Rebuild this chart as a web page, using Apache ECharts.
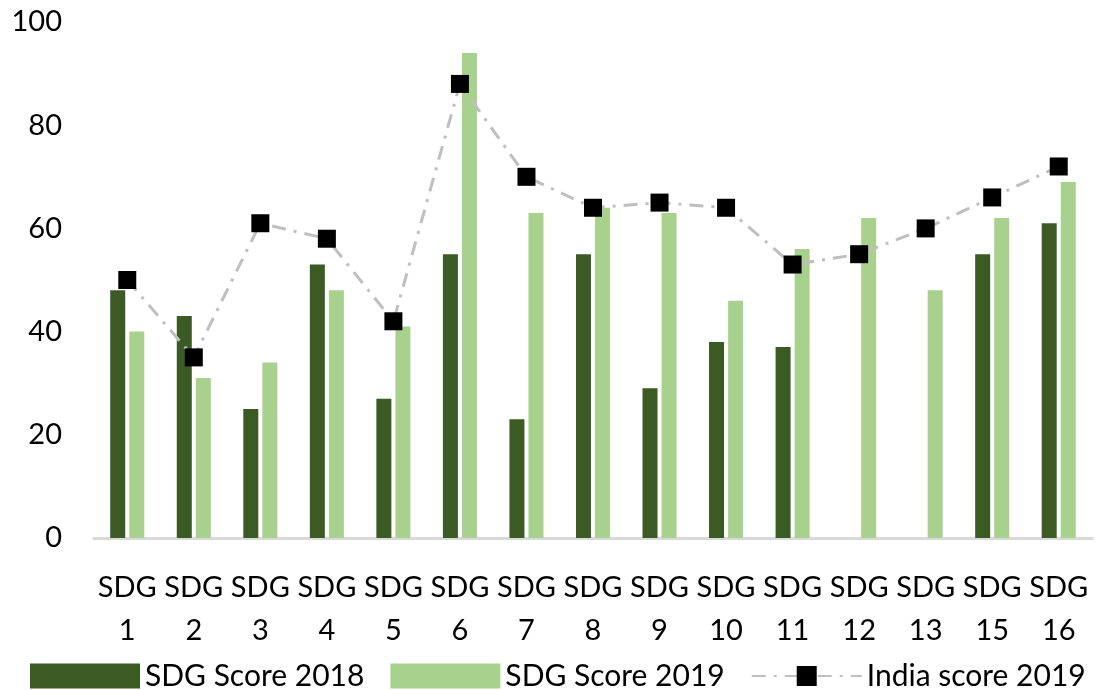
<!DOCTYPE html>
<html>
<head>
<meta charset="utf-8">
<script src="https://cdn.jsdelivr.net/npm/echarts@6/dist/echarts.min.js"></script>
<style>
  html, body { margin: 0; padding: 0; background: #fff; }
  #main { width: 1115px; height: 690px; }
</style>
</head>
<body>
<div id="main"></div>
<script>
var categories = ["SDG\n1", "SDG\n2", "SDG\n3", "SDG\n4", "SDG\n5", "SDG\n6", "SDG\n7", "SDG\n8",
  "SDG\n9", "SDG\n10", "SDG\n11", "SDG\n12", "SDG\n13", "SDG\n15", "SDG\n16"];
var score2018 = [48, 43, 25, 53, 27, 55, 23, 55, 29, 38, 37, null, null, 55, 61];
var score2019 = [40, 31, 34, 48, 41, 94, 63, 64, 63, 46, 56, 62, 48, 62, 69];
var india2019 = [50, 35, 61, 58, 42, 88, 70, 64, 65, 64, 53, 55, 60, 66, 72];

var font = "Lato";
var myChart = echarts.init(document.getElementById("main"));
var option = {
  animation: false,
  textStyle: { fontFamily: font },
  grid: {
    left: 94,
    right: 23,
    top: 22,
    bottom: 152,
    containLabel: false
  },
  legend: {
    left: 25,
    top: 656,
    itemWidth: 110,
    itemHeight: 25,
    itemGap: 26,
    textStyle: { fontFamily: font, fontSize: 30, color: "#000" },
    data: [
      { name: "SDG Score 2018", icon: "rect" },
      { name: "SDG Score 2019", icon: "rect" },
      { name: "India score 2019" }
    ]
  },
  xAxis: {
    type: "category",
    data: categories,
    axisLine: { lineStyle: { color: "#d9d9d9", width: 3 } },
    axisTick: { show: false },
    axisLabel: {
      interval: 0,
      margin: 28,
      fontFamily: font,
      fontSize: 29,
      lineHeight: 43,
      color: "#000"
    }
  },
  yAxis: {
    type: "value",
    min: 0,
    max: 100,
    interval: 20,
    axisLine: { show: false },
    axisTick: { show: false },
    splitLine: { show: false },
    axisLabel: {
      margin: 32,
      fontFamily: font,
      fontSize: 29,
      color: "#000"
    }
  },
  series: [
    {
      name: "SDG Score 2018",
      type: "bar",
      data: score2018,
      barWidth: 15,
      barGap: "27%",
      itemStyle: { color: "#3b5a24" }
    },
    {
      name: "SDG Score 2019",
      type: "bar",
      data: score2019,
      barWidth: 15,
      itemStyle: { color: "#a9d18e" }
    },
    {
      name: "India score 2019",
      type: "line",
      data: india2019,
      symbol: "rect",
      symbolSize: 18,
      itemStyle: { color: "#000" },
      lineStyle: { color: "#bfbfbf", width: 3, type: [14, 8, 3, 8] },
      z: 5
    }
  ]
};
myChart.setOption(option);
</script>
</body>
</html>
